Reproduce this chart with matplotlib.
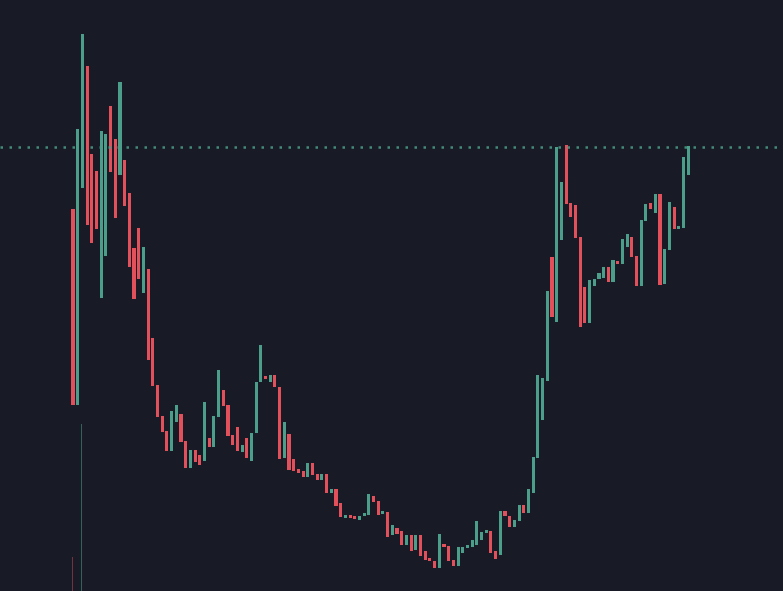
import numpy as np
import matplotlib.pyplot as plt

# price data (open / close per candle)
opens = [391, 195, 412, 534, 446, 429, 302, 344, 494, 461, 425, 440, 407, 352, 372, 307,
         331, 262, 215, 184, 169, 149, 178, 186, 159, 132, 150, 145, 139, 162, 153, 183,
         210, 195, 165, 173, 148, 162, 139, 167, 218, 224, 218, 225, 213, 142, 166, 141,
         131, 129, 123, 137, 126, 120, 126, 107, 111, 97, 82, 85, 84, 80, 84, 85,
         104, 99, 86, 88, 65, 72, 69, 55, 65, 50, 65, 49, 42, 39, 32, 56,
         54, 40, 34, 47, 52, 53, 55, 60, 67, 69, 49, 45, 89, 84, 73, 79,
         95, 87, 107, 142, 180, 219, 343, 278, 360, 455, 397, 395, 363, 313, 277, 314,
         321, 322, 333, 318, 339, 336, 353, 363, 344, 314, 379, 397, 387, 406, 316, 350,
         393, 371, 372, 425]
closes = [195, 471, 566, 375, 357, 371, 469, 466, 428, 382, 518, 394, 333, 301, 321, 353,
          240, 214, 183, 168, 149, 189, 195, 158, 132, 150, 138, 135, 198, 153, 184, 230,
          194, 164, 155, 149, 155, 142, 167, 218, 255, 221, 225, 213, 141, 178, 130, 129,
          127, 123, 137, 125, 120, 126, 107, 111, 94, 83, 85, 82, 81, 84, 87, 106,
          98, 85, 89, 63, 75, 66, 55, 65, 49, 65, 44, 40, 39, 32, 66, 53,
          39, 34, 53, 53, 55, 60, 79, 68, 70, 47, 41, 89, 84, 73, 80, 95,
          87, 111, 143, 225, 222, 309, 283, 453, 418, 396, 383, 362, 273, 277, 320, 321,
          327, 333, 318, 340, 336, 361, 366, 343, 314, 380, 396, 391, 406, 315, 351, 398,
          371, 374, 443, 454]

# only the first two volume bars show up in the view
volume_idx = [0, 2]
volume_vals = [34, 167]

level = 453

BG = "#181b25"
UP = "#4b9e89"
DOWN = "#e2515b"

opens = np.array(opens)
closes = np.array(closes)
x = np.arange(len(opens))
up = closes >= opens
colors = np.where(up, UP, DOWN)

fig = plt.figure(figsize=(7.83, 5.91), dpi=100)
fig.patch.set_facecolor(BG)
ax = fig.add_axes([0, 0, 1, 1])
ax.set_facecolor(BG)

# candle bodies
ax.bar(x, closes - opens, bottom=opens, width=0.66, color=colors, linewidth=0)

# faint volume bars at the bottom
ax.bar(volume_idx[0] - 0.1, volume_vals[0], bottom=9, width=0.3, color=DOWN, alpha=0.45, linewidth=0)
ax.bar(volume_idx[1] - 0.2, volume_vals[1], bottom=9, width=0.18, color=UP, alpha=0.55, linewidth=0)

# dotted level line
ax.axhline(level, color=UP, alpha=0.85, linewidth=1.8, linestyle=(0, (1, 2.6)), dash_capstyle="butt")

step = 4.696
ax.set_xlim(-73 / step, (783 - 73) / step)
ax.set_ylim(9, 600)
ax.axis("off")

fig.savefig("out.png", dpi=100, facecolor=BG)
